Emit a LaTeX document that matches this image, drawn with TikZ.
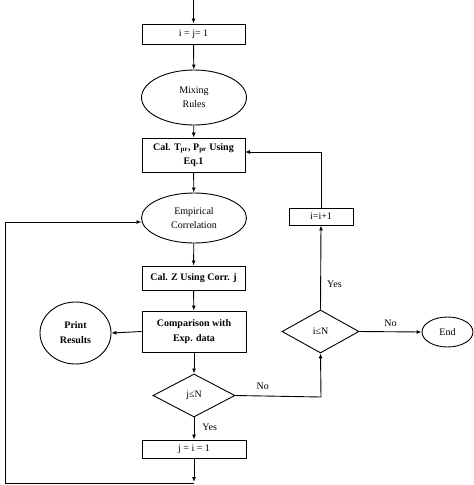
\documentclass[tikz,border=0pt]{standalone}
\usepackage{fontspec}
\setmainfont{Liberation Serif}
\usetikzlibrary{shapes.geometric,arrows.meta}
\begin{document}
\begin{tikzpicture}[x=1pt,y=-1pt,
  every node/.style={font=\fontsize{10}{14}\selectfont, align=center, inner sep=0pt},
  box/.style={draw, line width=0.9pt, rectangle},
  oval/.style={draw, line width=0.9pt, ellipse},
  dec/.style={draw, line width=0.9pt, diamond, aspect=2},
  lbl/.style={font=\fontsize{10}{12}\selectfont},
  arr/.style={line width=0.9pt, -{Latex[length=5pt,width=4pt]}},
  ln/.style={line width=0.9pt}]
\useasboundingbox (0,0) rectangle (474,485);
\node[box, minimum width=103pt, minimum height=20pt] (b1) at (193.5,34) {i = j= 1};
\node[oval, minimum width=105pt, minimum height=55pt] (mix) at (194,97.5) {Mixing\\Rules};
\node[box, minimum width=103pt, minimum height=34pt, font=\bfseries\fontsize{10}{14}\selectfont] (tpr) at (193.5,155) {Cal. T\textsubscript{pr}, P\textsubscript{pr} Using\\Eq.1};
\node[oval, minimum width=105pt, minimum height=50pt] (emp) at (194,218) {Empirical\\Correlation};
\node[box, minimum width=103pt, minimum height=24pt, font=\bfseries\fontsize{10}{14}\selectfont] (calz) at (193.5,278) {Cal. Z Using Corr. j};
\node[box, minimum width=104pt, minimum height=41pt, font=\bfseries\fontsize{10}{15}\selectfont] (comp) at (194,331.5) {Comparison with\\Exp. data};
\node[oval, minimum width=71pt, minimum height=62pt, font=\bfseries\fontsize{10}{15}\selectfont] (print) at (75.5,333) {Print\\Results};
\node[dec, minimum width=82pt, minimum height=43pt] (jn) at (194,395.5) {j≤N};
\node[box, minimum width=104pt, minimum height=18pt] (b2) at (194,449) {j = i = 1};
\node[dec, minimum width=77pt, minimum height=43pt] (in) at (320.5,331.5) {i≤N};
\node[oval, minimum width=51pt, minimum height=30pt] (end) at (447.5,332) {End};
\node[box, minimum width=64pt, minimum height=17pt] (inc) at (321,216.5) {i=i+1};
% connectors
\coordinate (top) at (193.5,0);
\draw[arr] (top) -- (b1.north);
\draw[arr] (b1) -- (mix);
\draw[arr] (mix) -- (tpr);
\draw[arr] (tpr) -- (emp);
\draw[arr] (emp) -- (calz);
\draw[arr] (calz) -- (comp);
\draw[arr] (comp) -- (jn);
\draw[arr] (jn) -- node[lbl, right=8pt, pos=0.45] {Yes} (b2);
\draw[arr] (comp.west) -- (print.east);
\coordinate (bend) at (194,482);
\draw[arr] (b2.south) -- (bend);
\coordinate (bl) at (5,483);
\coordinate (br) at (194,483);
\coordinate (tl) at (5,222);
\coordinate (et) at (141.5,222);
\draw[ln, -{Latex[length=5pt,width=4pt]}] (br) -- (bl) -- (tl) -- (et);
\coordinate (jr) at (321,397);
\draw[arr] (jn.east) -- node[lbl, above=6pt, pos=0.32] {No} (jr) -- (in.south);
\draw[arr] (in.north) -- node[lbl, right=6pt, pos=0.3] {Yes} (inc.south);
\draw[arr] (in.east) -- node[lbl, above=5pt] {No} (end.west);
\coordinate (up) at (321,152);
\coordinate (tr) at (245,152);
\draw[ln, -{Latex[length=5pt,width=4pt]}] (inc.north) -- (up) -- (tr);
\end{tikzpicture}
\end{document}
